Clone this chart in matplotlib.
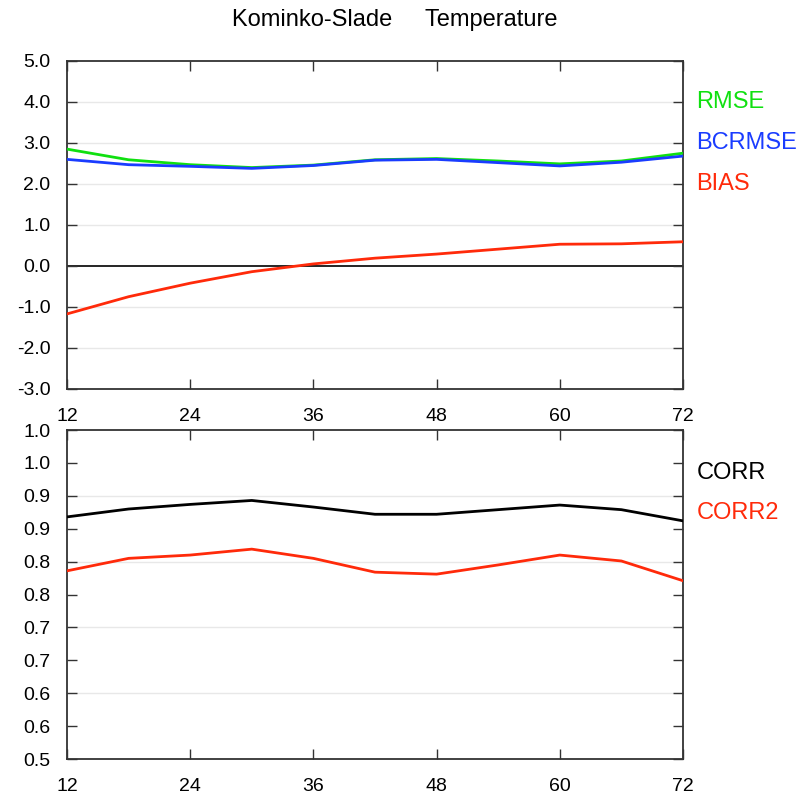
import matplotlib
matplotlib.use("Agg")
import matplotlib.pyplot as plt

plt.rcParams['font.family'] = ['Liberation Sans', 'DejaVu Sans']

# forecast lead time (hours)
lead = [12, 18, 24, 30, 36, 42, 48, 54, 60, 66, 72]

rmse   = [2.85, 2.59, 2.47, 2.40, 2.46, 2.59, 2.62, 2.56, 2.49, 2.56, 2.75]
bcrmse = [2.60, 2.47, 2.43, 2.38, 2.45, 2.58, 2.60, 2.52, 2.44, 2.53, 2.68]
bias   = [-1.17, -0.75, -0.42, -0.14, 0.05, 0.19, 0.29, 0.41, 0.53, 0.54, 0.59]

corr  = [0.868, 0.880, 0.887, 0.893, 0.883, 0.872, 0.872, 0.879, 0.886, 0.879, 0.862]
corr2 = [0.786, 0.805, 0.810, 0.819, 0.805, 0.784, 0.781, 0.795, 0.810, 0.801, 0.771]

xticks = [12, 24, 36, 48, 60, 72]
top_yticks = [-3, -2, -1, 0, 1, 2, 3, 4, 5]
top_ylabels = ['-3.0', '-2.0', '-1.0', '0.0', '1.0', '2.0', '3.0', '4.0', '5.0']
bot_yticks = [0.5, 0.55, 0.6, 0.65, 0.7, 0.75, 0.8, 0.85, 0.9, 0.95, 1.0]
bot_ylabels = ['0.5', '0.6', '0.6', '0.7', '0.7', '0.8', '0.8', '0.9', '0.9', '1.0', '1.0']

GREEN = '#10e010'
BLUE = '#1a3cff'
RED = '#ff2a0a'

fig = plt.figure(figsize=(8.12, 8.01), dpi=100)
ax1 = fig.add_axes([0.0825, 0.5144, 0.7586, 0.4095])
ax2 = fig.add_axes([0.0825, 0.0524, 0.7586, 0.4107])


def style(ax):
    ax.set_xlim(12, 72)
    ax.set_xticks(xticks)
    ax.set_xticklabels([str(v) for v in xticks])
    ax.tick_params(axis='both', direction='in', length=7, width=1,
                   top=True, right=True, labelsize=14, color='#333333')
    ax.tick_params(axis='x', pad=14)
    ax.tick_params(axis='y', pad=12)
    for s in ax.spines.values():
        s.set_linewidth(1.3)
        s.set_color('#333333')


style(ax1)
ax1.set_ylim(-3, 5)
ax1.set_yticks(top_yticks)
ax1.set_yticklabels(top_ylabels)
for v in [-2, -1, 1, 2, 3, 4]:
    ax1.axhline(v, color='#e8e8e8', lw=1, zorder=0)
ax1.axhline(0, color='black', lw=1.2, zorder=1)
ax1.plot(lead, rmse, color=GREEN, lw=2, zorder=3)
ax1.plot(lead, bcrmse, color=BLUE, lw=2, zorder=4)
ax1.plot(lead, bias, color=RED, lw=2, zorder=3)
for label, color, yv in [('RMSE', GREEN, 4.0), ('BCRMSE', BLUE, 3.0), ('BIAS', RED, 2.0)]:
    ax1.text(1.022, (yv + 3) / 8, label, color=color, fontsize=17,
             transform=ax1.transAxes, ha='left', va='center')

style(ax2)
ax2.set_ylim(0.5, 1.0)
ax2.set_yticks(bot_yticks)
ax2.set_yticklabels(bot_ylabels)
for v in [0.6, 0.7, 0.8, 0.9]:
    ax2.axhline(v, color='#e8e8e8', lw=1, zorder=0)
ax2.plot(lead, corr, color='black', lw=2, zorder=3)
ax2.plot(lead, corr2, color=RED, lw=2, zorder=3)
for label, color, yv in [('CORR', 'black', 0.935), ('CORR2', RED, 0.874)]:
    ax2.text(1.022, (yv - 0.5) / 0.5, label, color=color, fontsize=17,
             transform=ax2.transAxes, ha='left', va='center')

fig.text(0.4865, 0.975, 'Kominko-Slade     Temperature', fontsize=17,
         ha='center', va='center')

fig.savefig('out.png', dpi=100)
